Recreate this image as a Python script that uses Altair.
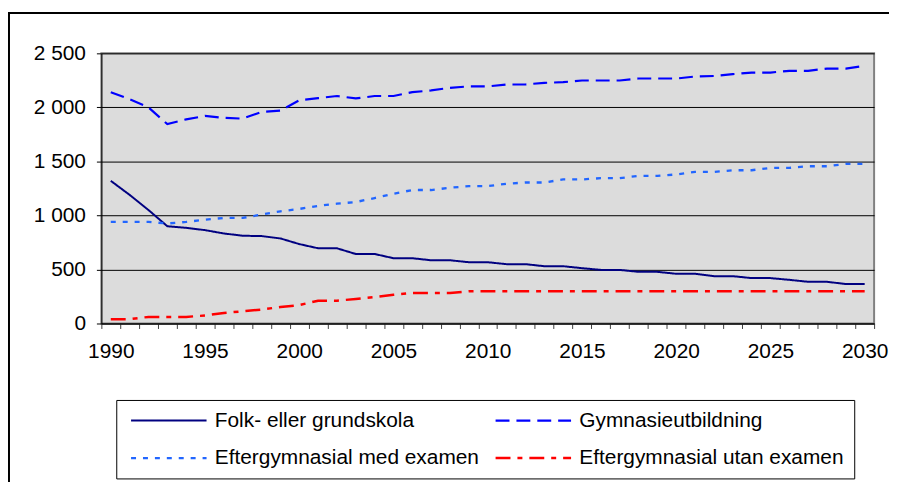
import altair as alt
import pandas as pd

years = list(range(1990, 2031))
series_names = ["Folk- eller grundskola", "Gymnasieutbildning",
                "Eftergymnasial med examen", "Eftergymnasial utan examen"]
folk = [1320, 1190, 1050, 900, 885, 864, 833, 812, 809, 787, 735, 696, 696, 643, 643,
        604, 604, 585, 585, 567, 567, 549, 549, 530, 530, 512, 496, 496, 478, 478,
        460, 460, 438, 438, 420, 420, 404, 386, 386, 365, 365]
gymn = [2140, 2075, 2000, 1845, 1889, 1921, 1903, 1896, 1958, 1970, 2065, 2085, 2105, 2083,
        2105, 2105, 2141, 2157, 2181, 2194, 2194, 2212, 2212, 2227, 2233, 2249, 2249, 2249,
        2267, 2267, 2267, 2286, 2290, 2307, 2322, 2322, 2338, 2338, 2359, 2359, 2384]
med = [940, 940, 940, 925, 940, 960, 977, 977, 1008, 1038, 1060, 1088, 1109, 1124, 1161,
       1201, 1235, 1235, 1256, 1271, 1271, 1293, 1305, 1305, 1333, 1333, 1345, 1345, 1366,
       1366, 1379, 1403, 1403, 1418, 1418, 1440, 1440, 1455, 1455, 1477, 1477]
utan = [40, 40, 61, 61, 61, 74, 98, 113, 129, 153, 170, 211, 211, 227, 245, 266, 282, 282,
        282, 298] + [298] * 21
y_ticks = [0, 500, 1000, 1500, 2000, 2500]

colors = ["#000080", "#0000FF", "#2266FF", "#FF0000"]
dashes = [[1, 0], [14, 7], [5, 7], [15, 7, 5, 7]]
widths = [2, 2.5, 3, 3]

rows = []
for name, vals in zip(series_names, [folk, gymn, med, utan]):
    for yr, v in zip(years, vals):
        rows.append({"year": yr, "value": v, "series": name})
df = pd.DataFrame(rows)

FONT = "Liberation Sans"

# wide horizontal stroke symbol (path scaled by sqrt(size)/2)
sym_size = 231
legend = alt.Legend(orient="none", legendX=15, legendY=349, columns=2, direction="horizontal",
                    title=None, strokeColor="black", fillColor="white",
                    padding=10, symbolSize=sym_size, symbolType="M-5,0H5",
                    symbolStrokeWidth=2.5, symbolOffset=32.4,
                    labelFontSize=21, labelFont=FONT, labelColor="black",
                    labelLimit=400, labelOffset=35.8,
                    columnPadding=10, rowPadding=16)

lines = alt.Chart(df).mark_line().encode(
    x=alt.X("year:Q", scale=alt.Scale(domain=[1989.5, 2030.5], nice=False, zero=False),
            axis=alt.Axis(values=[1989.5 + i for i in range(42)],
                          labelExpr="(datum.value + 0.5) % 5 == 0 ? toString(datum.value + 0.5) : ''",
                          labelOffset=9.5, labelOverlap=False, labelFlush=False,
                          tickSize=5, tickColor="#404040", grid=False,
                          labelFontSize=21, labelFont=FONT, labelColor="black",
                          labelPadding=12, domainColor="black", title=None)),
    y=alt.Y("value:Q", scale=alt.Scale(domain=[0, 2500], nice=False),
            axis=alt.Axis(values=y_ticks,
                          labelExpr="replace(format(datum.value, ','), ',', ' ')",
                          grid=True, gridColor="black", gridWidth=1,
                          tickSize=5, tickColor="black", labelFontSize=21, labelFont=FONT,
                          labelColor="black", labelPadding=11, domainColor="black",
                          title=None)),
    color=alt.Color("series:N", scale=alt.Scale(domain=series_names, range=colors),
                    sort=series_names, legend=legend),
    strokeDash=alt.StrokeDash("series:N", scale=alt.Scale(domain=series_names, range=dashes),
                              sort=series_names, legend=legend),
    strokeWidth=alt.StrokeWidth("series:N", scale=alt.Scale(domain=series_names, range=widths),
                                legend=None),
)

one = pd.DataFrame({"a": [0]})
frame_top = alt.Chart(one).mark_rule(color="black", strokeWidth=2).encode(
    x=alt.value(-94), x2=alt.value(1000), y=alt.value(-40.5))
frame_left = alt.Chart(one).mark_rule(color="black", strokeWidth=2).encode(
    x=alt.value(-93), y=alt.value(-41.5), y2=alt.value(700))

chart = alt.layer(frame_top, frame_left, lines).properties(
    width=778, height=272,
    padding={"left": 94, "top": 44, "right": 15, "bottom": 166},
    autosize=alt.AutoSizeParams(type="none"),
    background="white",
).configure_view(fill="#DCDCDC", stroke="#808080", strokeWidth=2)

chart.save("out.html", embed_options={"renderer": "svg", "actions": False})
